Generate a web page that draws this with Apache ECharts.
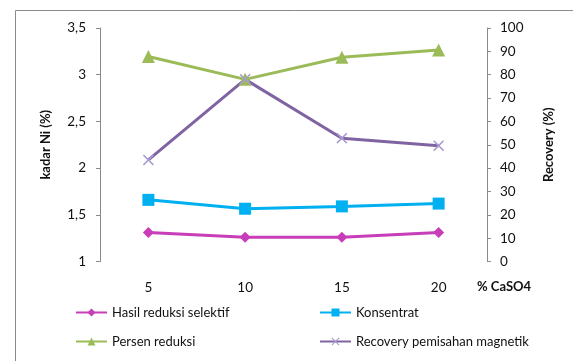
<!DOCTYPE html>
<html>
<head>
<meta charset="utf-8">
<script src="https://cdn.jsdelivr.net/npm/echarts@6/dist/echarts.min.js"></script>
<style>
html,body{margin:0;padding:0;background:#fff;}
#chart{width:573px;height:361px;}
</style>
</head>
<body>
<div id="chart"></div>
<script>
// CaSO4 additions (%) on the category axis
var categories = ['5', '10', '15', '20'];
// Ni grade (%) on the left axis
var hasilReduksi = [1.31, 1.26, 1.26, 1.31];
var konsentrat = [1.66, 1.565, 1.59, 1.62];
// Percentages on the right axis
var persenReduksi = [87.8, 78, 87.5, 90.6];
var recoveryMagnetik = [43.5, 78, 52.8, 49.6];
// Tick ranges
var leftTicks = {min: 1, max: 3.5, interval: 0.5};
var rightTicks = {min: 0, max: 100, interval: 10};

var FONT = 'Lato, "Open Sans", sans-serif';
var crossPath = 'path://M0,1 L1,0 L5,4 L9,0 L10,1 L6,5 L10,9 L9,10 L5,6 L1,10 L0,9 L4,5 Z';

function commaFmt(v) { return String(v).replace('.', ','); }

var chart = echarts.init(document.getElementById('chart'));

function legendAt(name, left, top) {
  return {
    data: [name], left: left, top: top, padding: 0, itemWidth: 31, itemHeight: 10,
    textStyle: {fontFamily: FONT, fontSize: 13, color: '#111'}
  };
}

chart.setOption({
  animation: false,
  graphic: [
    {type: 'rect', shape: {x: 15.5, y: 10.5, width: 700, height: 500},
     style: {fill: 'none', stroke: '#8a8a8a', lineWidth: 1}, silent: true},
    {type: 'text', left: 477, top: 280,
     style: {text: '% CaSO4', fontFamily: FONT, fontSize: 13, fontWeight: 'bold', fill: '#111'}}
  ],
  legend: [
    legendAt('Hasil reduksi selektif', 75, 306),
    legendAt('Konsentrat', 319, 306),
    legendAt('Persen reduksi', 75, 335),
    legendAt('Recovery pemisahan magnetik', 319, 335)
  ],
  grid: {left: 100, right: 86, top: 28, height: 233.5},
  xAxis: {
    type: 'category', data: categories, boundaryGap: true,
    axisLine: {show: false}, axisTick: {show: false},
    axisLabel: {margin: 19, fontFamily: FONT, fontSize: 13.5, color: '#111'}
  },
  yAxis: [
    {type: 'value', position: 'left',
     min: leftTicks.min, max: leftTicks.max, interval: leftTicks.interval,
     name: 'kadar Ni (%)', nameLocation: 'middle', nameGap: 48,
     nameTextStyle: {fontFamily: FONT, fontSize: 13, fontWeight: 'bold', color: '#111'},
     axisLine: {show: true, lineStyle: {color: '#8a8a8a'}},
     axisTick: {show: true, length: 4, lineStyle: {color: '#8a8a8a'}},
     splitLine: {show: false},
     axisLabel: {margin: 14, fontFamily: FONT, fontSize: 13.5, color: '#111', formatter: commaFmt}},
    {type: 'value', position: 'right',
     min: rightTicks.min, max: rightTicks.max, interval: rightTicks.interval,
     name: 'Recovery (%)', nameLocation: 'middle', nameGap: 55,
     nameTextStyle: {fontFamily: FONT, fontSize: 13, fontWeight: 'bold', color: '#111'},
     axisLine: {show: true, lineStyle: {color: '#8a8a8a'}},
     axisTick: {show: true, length: 4, lineStyle: {color: '#8a8a8a'}},
     splitLine: {show: false},
     axisLabel: {margin: 13, fontFamily: FONT, fontSize: 13.5, color: '#111'}}
  ],
  series: [
    {name: 'Hasil reduksi selektif', type: 'line', yAxisIndex: 0,
     data: hasilReduksi, symbol: 'diamond', symbolSize: 11,
     itemStyle: {color: '#C83DB8'}, lineStyle: {color: '#C83DB8', width: 3}},
    {name: 'Konsentrat', type: 'line', yAxisIndex: 0,
     data: konsentrat, symbol: 'rect', symbolSize: 12,
     itemStyle: {color: '#00B0F0'}, lineStyle: {color: '#00B0F0', width: 3}},
    {name: 'Persen reduksi', type: 'line', yAxisIndex: 1,
     data: persenReduksi, symbol: 'triangle', symbolSize: 13,
     itemStyle: {color: '#9BBB59'}, lineStyle: {color: '#9BBB59', width: 3}},
    {name: 'Recovery pemisahan magnetik', type: 'line', yAxisIndex: 1,
     data: recoveryMagnetik, symbol: crossPath, symbolSize: 11,
     itemStyle: {color: '#A99BD0'}, lineStyle: {color: '#8064A2', width: 3}}
  ]
});
</script>
</body>
</html>
